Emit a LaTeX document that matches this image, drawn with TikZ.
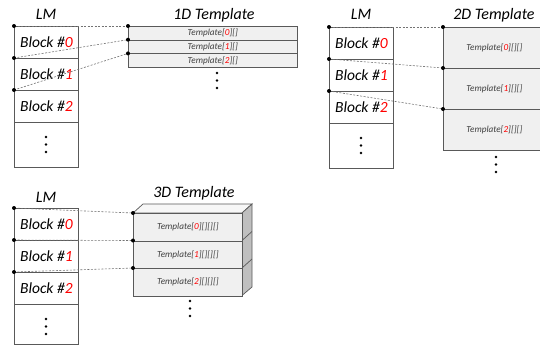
\documentclass[tikz,border=0pt]{standalone}
\usepackage{fontspec}
\setmainfont{Carlito}
\begin{document}
\begin{tikzpicture}[x=1pt,y=-1pt,
  lmbox/.style={draw=black!65, line width=0.7pt, fill=white, minimum width=64pt, minimum height=32pt, inner sep=0pt, anchor=north west, font=\itshape\fontsize{15.5}{15.5}\selectfont},
  tbox/.style={draw=black!65, line width=0.7pt, fill=black!6, inner sep=0pt, anchor=north west, font=\itshape\fontsize{9.2}{9.2}\selectfont, text=black!75},
  ttl/.style={font=\itshape\fontsize{16}{16}\selectfont},
  dl/.style={dashed, dash pattern=on 2pt off 1.5pt, draw=black!55, line width=0.6pt},
  pt/.style={circle, fill=black, inner sep=0pt, minimum size=4pt}
]
\useasboundingbox (0,0) rectangle (540,346);
\newcommand{\idx}[1]{\textcolor{red}{#1}}
% ---------- Panel 1 ----------
\node[ttl] (lm1t) at (46,14) {LM};
\node[lmbox] (a0) at (14,26) {Block \#\idx{0}};
\node[lmbox] (a1) at (14,58) {Block \#\idx{1}};
\node[lmbox] (a2) at (14,90) {Block \#\idx{2}};
\node[lmbox, minimum height=45pt] (a3) at (14,122) {};
\foreach \yy in {137,144.5,152} \fill (46,\yy) circle (1.3pt);
\node[ttl] (t1t) at (214,15) {1D Template};
\node[tbox, minimum width=169pt, minimum height=13.7pt] (b0) at (128,26) {Template[\idx{0}][]};
\node[tbox, minimum width=169pt, minimum height=13.7pt] (b1) at (128,39.7) {Template[\idx{1}][]};
\node[tbox, minimum width=169pt, minimum height=13.7pt] (b2) at (128,53.4) {Template[\idx{2}][]};
\foreach \yy in {73,80.5,88} \fill (217,\yy) circle (1.3pt);
\draw[dl] (a0.north west) -- (b0.north west);
\draw[dl] (a1.north west) -- (b1.north west);
\draw[dl] (a2.north west) -- (b2.north west);
\foreach \n in {a0,a1,a2,b0,b1,b2} \node[pt] at (\n.north west) {};
% ---------- Panel 2 ----------
\node[ttl] (lm2t) at (361,14) {LM};
\node[lmbox] (c0) at (329,27) {Block \#\idx{0}};
\node[lmbox] (c1) at (329,59) {Block \#\idx{1}};
\node[lmbox] (c2) at (329,91) {Block \#\idx{2}};
\node[lmbox, minimum height=45pt] (c3) at (329,123) {};
\foreach \yy in {138,145.5,153} \fill (361,\yy) circle (1.3pt);
\node[ttl] (t2t) at (494,15) {2D Template};
\node[tbox, minimum width=102pt, minimum height=41pt] (d0) at (443,27) {Template[\idx{0}][][]};
\node[tbox, minimum width=102pt, minimum height=41pt] (d1) at (443,68) {Template[\idx{1}][][]};
\node[tbox, minimum width=102pt, minimum height=41pt] (d2) at (443,109) {Template[\idx{2}][][]};
\foreach \yy in {157,164.5,172} \fill (496,\yy) circle (1.3pt);
\draw[dl] (c0.north west) -- (d0.north west);
\draw[dl] (c1.north west) -- (d1.north west);
\draw[dl] (c2.north west) -- (d2.north west);
\foreach \n in {c0,c1,c2,d0,d1,d2} \node[pt] at (\n.north west) {};
% ---------- Panel 3 ----------
\node[ttl] (lm3t) at (46,197) {LM};
\node[lmbox] (e0) at (14,208) {Block \#\idx{0}};
\node[lmbox] (e1) at (14,240) {Block \#\idx{1}};
\node[lmbox] (e2) at (14,272) {Block \#\idx{2}};
\node[lmbox, minimum height=40pt] (e3) at (14,304) {};
\foreach \yy in {319,326.5,334} \fill (46,\yy) circle (1.3pt);
\node[ttl] (t3t) at (194,193) {3D Template};
% top and side faces
\draw[draw=black!65, line width=0.7pt, fill=black!3] (133,213) -- (143,204) -- (252,204) -- (242,213) -- cycle;
\draw[draw=black!65, line width=0.7pt, fill=black!25] (242,213) -- (252,204) -- (252,287) -- (242,295.5) -- cycle;
\draw[draw=black!65, line width=0.7pt] (242,240.5) -- (252,231.5);
\draw[draw=black!65, line width=0.7pt] (242,268) -- (252,259);
\node[tbox, minimum width=109pt, minimum height=27.5pt] (f0) at (133,213) {Template[\idx{0}][][][]};
\node[tbox, minimum width=109pt, minimum height=27.5pt] (f1) at (133,240.5) {Template[\idx{1}][][][]};
\node[tbox, minimum width=109pt, minimum height=27.5pt] (f2) at (133,268) {Template[\idx{2}][][][]};
\foreach \yy in {301,308.5,316} \fill (190,\yy) circle (1.3pt);
\draw[dl] (e0.north west) -- (f0.north west);
\draw[dl] (e1.north west) -- (f1.north west);
\draw[dl] (e2.north west) -- (f2.north west);
\foreach \n in {e0,e1,e2,f0,f1,f2} \node[pt] at (\n.north west) {};
\end{tikzpicture}
\end{document}
